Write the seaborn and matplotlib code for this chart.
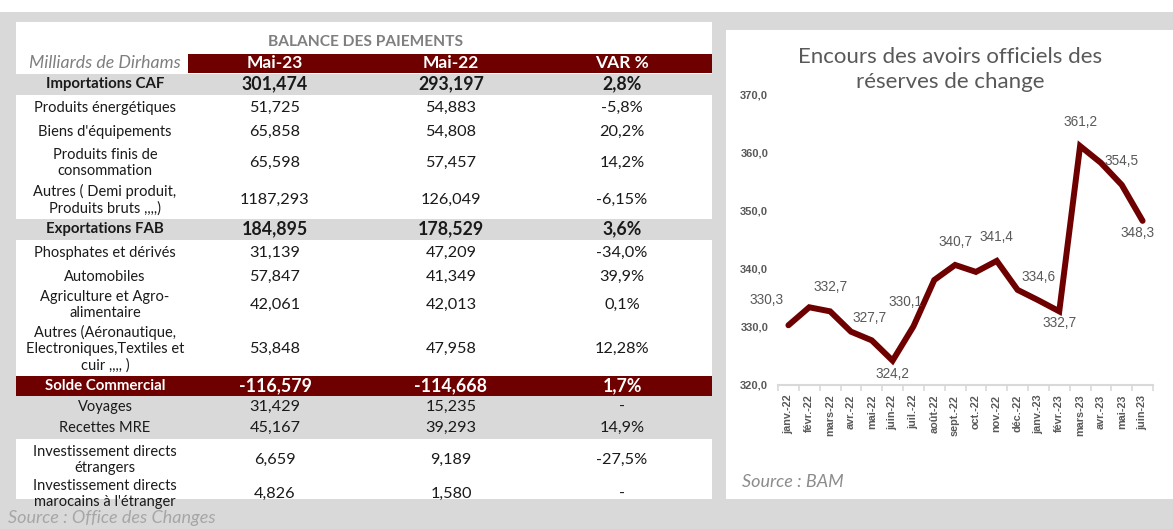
import pandas as pd
import matplotlib
matplotlib.use("Agg")
import matplotlib.pyplot as plt
from matplotlib.patches import Rectangle
import seaborn as sns

# Table data (Office des Changes)
rubriques = ["Importations CAF", "Produits énergétiques", "Biens d'équipements",
             "Produits finis de\nconsommation", "Autres ( Demi produit,\nProduits bruts ,,,,)",
             "Exportations FAB", "Phosphates et dérivés", "Automobiles",
             "Agriculture et Agro-\nalimentaire",
             "Autres (Aéronautique,\nElectroniques,Textiles et\ncuir ,,,, )",
             "Solde Commercial", "Voyages", "Recettes MRE",
             "Investissement directs\nétrangers", "Investissement directs\nmarocains à l'étranger"]
mai_23 = ["301,474", "51,725", "65,858", "65,598", "1187,293", "184,895", "31,139", "57,847",
          "42,061", "53,848", "-116,579", "31,429", "45,167", "6,659", "4,826"]
mai_22 = ["293,197", "54,883", "54,808", "57,457", "126,049", "178,529", "47,209", "41,349",
          "42,013", "47,958", "-114,668", "15,235", "39,293", "9,189", "1,580"]
var_pct = ["2,8%", "-5,8%", "20,2%", "14,2%", "-6,15%", "3,6%", "-34,0%", "39,9%", "0,1%",
           "12,28%", "1,7%", "-", "14,9%", "-27,5%", "-"]
row_kind = ["total", "", "", "", "", "total", "", "", "", "", "solde", "gris", "gris", "", ""]

# Chart data (BAM)
mois = ["janv.-22", "févr.-22", "mars-22", "avr.-22", "mai-22", "juin-22", "juil.-22", "août-22",
        "sept.-22", "oct.-22", "nov.-22", "déc.-22", "janv.-23", "févr.-23", "mars-23", "avr.-23",
        "mai-23", "juin-23"]
reserves = [330.3, 333.4, 332.7, 329.2, 327.7, 324.2, 330.1, 338.1, 340.7, 339.5, 341.4, 336.4,
            334.6, 332.7, 361.2, 358.3, 354.5, 348.3]
# which points carry a value label, and where (offset in px)
etiquettes = {0: (-22, 25), 2: (0, 24), 4: (-2, 22), 5: (0, -13), 6: (-8, 24), 8: (0, 23),
              10: (0, 24), 12: (0, 23), 13: (0, -12), 14: (0, 24), 16: (0, 24), 17: (-5, -12)}

W, H = 1173, 529
ROUGE = "#6e0000"
GRIS = "#d9d9d9"

sns.set_theme(style="white")
plt.rcParams['font.family'] = ['Lato', 'DejaVu Sans']

fig = plt.figure(figsize=(W / 100, H / 100), dpi=100)
fig.patch.set_facecolor("white")


def rect(x0, y0, x1, y1, color, z=0):
    fig.add_artist(Rectangle((x0 / W, 1 - y1 / H), (x1 - x0) / W, (y1 - y0) / H,
                             transform=fig.transFigure, color=color, zorder=z, lw=0))


def txt(x, y, s, **kw):
    kw.setdefault("ha", "center")
    kw.setdefault("va", "center")
    fig.text(x / W, 1 - y / H, s, **kw)


# panels
rect(0, 12, W, H, GRIS, z=0)
rect(16, 22, 712, 499, "white", z=1)
rect(726, 30, W, 499, "white", z=1)

# ---- table ----
txt(366, 42, "BALANCE DES PAIEMENTS", fontsize=11.2, fontweight="bold", color="#7f7f7f", zorder=5)
rect(188, 54, 712, 73, ROUGE, z=2)
txt(105, 63, "Milliards de Dirhams", fontsize=12.8, style="italic", color="#7f7f7f", zorder=5)
cols_x = [275, 451, 622]
for x, s in zip(cols_x, ["Mai-23", "Mai-22", "VAR %"]):
    txt(x, 63, s, fontsize=12.5, fontweight="bold", color="white", zorder=5)

row_y = [84, 108, 132, 163, 200, 229, 253, 277, 305, 349, 386, 407, 428, 460, 494]
for i, lab in enumerate(rubriques):
    y = row_y[i]
    kind = row_kind[i]
    color, weight = "#1a1a1a", "normal"
    if kind == "total":
        rect(16, y - 10, 712, y + 11, GRIS, z=2)
        weight = "bold"
    elif kind == "solde":
        rect(16, y - 10, 712, y + 10, ROUGE, z=2)
        color, weight = "white", "bold"
    elif kind == "gris":
        rect(16, y - 11, 712, y + 11, GRIS, z=2)
    lab_size = 10.8 if weight == "bold" else 10.5
    val_size = 12.8 if weight == "bold" else 11.7
    txt(105, y, lab, fontsize=lab_size, fontweight=weight, color=color, zorder=5, linespacing=1.2)
    for x, s in zip(cols_x, [mai_23[i], mai_22[i], var_pct[i]]):
        txt(x, y, s, fontsize=val_size, fontweight=weight, color=color, zorder=5)

txt(8, 518, "Source : Office des Changes", ha="left", fontsize=13, style="italic",
    color="#a6a6a6", zorder=5)

# ---- chart ----
txt(950, 57, "Encours des avoirs officiels des", fontsize=16, color="#595959", zorder=5)
txt(950, 82, "réserves de change", fontsize=16, color="#595959", zorder=5)
txt(742, 482, "Source : BAM", ha="left", fontsize=13, style="italic", color="#8c8c8c", zorder=5)

ax = fig.add_axes([778 / W, 1 - 385 / H, (1153 - 778) / W, (385 - 95) / H], zorder=4)
ax.patch.set_alpha(0)
df = pd.DataFrame({"mois": mois, "reserves": reserves})
sns.lineplot(data=df, x="mois", y="reserves", sort=False, color=ROUGE, lw=4.3, ax=ax,
             solid_joinstyle="miter")
for i, (dx, dy) in etiquettes.items():
    ax.annotate(f"{reserves[i]:.1f}".replace(".", ","), (i, reserves[i]),
                xytext=(dx * 0.72, dy * 0.72), textcoords="offset points",
                ha="center", va="center", fontsize=9.8, color="#595959",
                family="Liberation Sans")

ax.set_xlim(-0.5, len(mois) - 0.5)
ax.set_ylim(320, 370)
ax.set_yticks([320, 330, 340, 350, 360, 370])
ax.set_yticklabels([f"{v:.1f}".replace(".", ",") for v in [320, 330, 340, 350, 360, 370]],
                   fontsize=8, fontweight="bold", color="#595959", family="Liberation Sans")
ax.set_xticks(range(len(mois)))
ax.set_xticklabels(mois, rotation=90, fontsize=7.8, fontweight="bold", color="#595959",
                   family="Liberation Sans")
ax.set_xticks([i - 0.5 for i in range(len(mois) + 1)], minor=True)
ax.tick_params(axis="x", which="major", length=0, pad=7)
ax.tick_params(axis="x", which="minor", length=4, width=1.2, color=GRIS, direction="out", bottom=True)
ax.tick_params(axis="y", length=0, pad=7)
ax.set_xlabel("")
ax.set_ylabel("")
for s in ["top", "right", "left"]:
    ax.spines[s].set_visible(False)
ax.spines["bottom"].set_color(GRIS)
ax.spines["bottom"].set_linewidth(1.5)
ax.grid(False)

fig.savefig("out.png", dpi=100)
